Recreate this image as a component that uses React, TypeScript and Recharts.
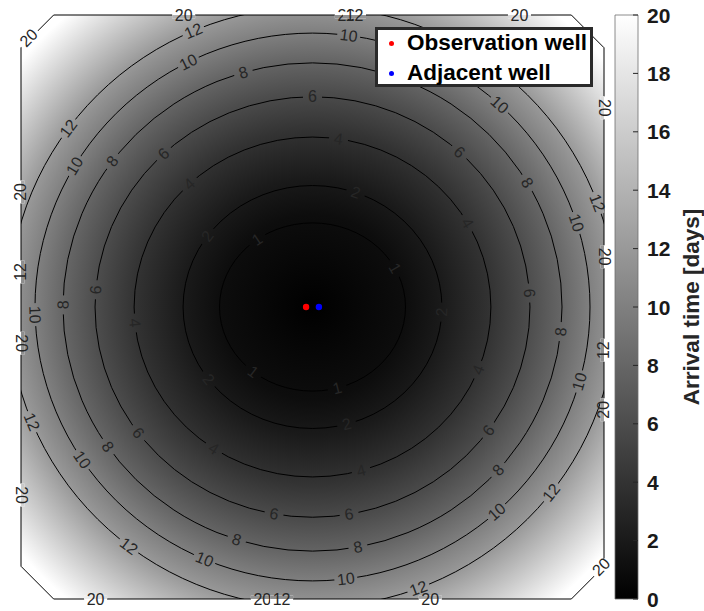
import React from 'react';
import {
  ComposedChart,
  BarChart,
  Bar,
  XAxis,
  YAxis,
  Scatter,
  ReferenceArea,
  ReferenceDot,
  Legend,
} from 'recharts';

// contour levels [days] and the half-axes of each contour ring (plot units)
const LEVELS = [1, 2, 4, 6, 8, 10, 12];
const RADIUS_X = [15.95, 22.2, 30.6, 37.3, 42.8, 47.6, 52.1];
const RADIUS_Y = [14.4, 20.8, 29.1, 36.0, 41.8, 46.9, 51.4];
const MAX_LEVEL = 20;
const MAX_RADIUS_X = 65.7;
const MAX_RADIUS_Y = 65.1;

// where the inline labels sit on each ring (degrees, counter-clockwise from +x)
const LABEL_ANGLES = [
  [126.6, 27.5, -129.7, -74.6],
  [70.5, 144.3, -2.4, -143.5, -74.7],
  [81.6, 133.6, -174.6, -123.6, -74.2, -21.7, 29.6],
  [90, 133.2, 175.3, -143.2, -100.2, -80.3, -35.9, 3.8, 47.5],
  [106.1, 143.3, 179.5, -145.1, -107.7, -79.5, -41.9, -5.8, 30.6],
  [116.6, 149, 82.5, -178.4, -146.1, -112.9, -83.1, -48.4, -15.8, 17.9, 47.6],
  [113.1, 143.5, -157.5, -127.2, -69.6, -38.2, 20.3],
];

// outer edge of the computed field (the 20-day contour)
const BOUNDARY_X = [-50, -44.4, 44.4, 50, 50, 44.4, -44.4, -50, -50];
const BOUNDARY_Y = [44.4, 50, 50, 44.4, -44.4, -50, -50, -44.4, 44.4];

// labels that sit on the outer edge
const EDGE_LABEL_TEXT = ['20', '20', '12', '20', '20', '20', '12', '20', '20', '20', '12', '20', '20', '20', '20', '12', '20', '20'];
const EDGE_LABEL_X = [-22.1, 5.8, 7.2, 35.5, -37.2, -8.6, -5.3, 20.2, -50, -50, -50, -50, 50, 50, 50, 50, -48.7, 49.5];
const EDGE_LABEL_Y = [50, 50, 50, 50, -50, -50, -50, -50, 19.7, -6.2, 6.0, -32.2, 34.1, 8.6, -17.6, -7.4, 46.1, -44.5];
const EDGE_LABEL_ROT = [0, 0, 0, 0, 0, 0, 0, 0, -90, 90, -90, 90, 90, 90, -90, -90, -45, -45];

const OBSERVATION_WELL = [{ x: -1.1, y: 0 }];
const ADJACENT_WELL = [{ x: 1.1, y: 0 }];
const WELL_NAMES = ['Observation well', 'Adjacent well'];

const COLORBAR_TICKS = [0, 2, 4, 6, 8, 10, 12, 14, 16, 18, 20];
const COLORBAR_DATA = [{ name: 'Arrival time', value: MAX_LEVEL }];

const FONT = '"Liberation Sans", Arial, Helvetica, sans-serif';

const gray = (level: number) => {
  const v = Math.round((255 * level) / MAX_LEVEL);
  return `rgb(${v},${v},${v})`;
};

const readable = (deg: number) => {
  let a = deg;
  while (a > 90) a -= 180;
  while (a <= -90) a += 180;
  return a;
};

const boundaryData = BOUNDARY_X.map((x, i) => ({ x, y: BOUNDARY_Y[i] }));

const ringLabels = LEVELS.flatMap((level, i) =>
  LABEL_ANGLES[i].map((phi) => {
    const t = (phi * Math.PI) / 180;
    const rx = RADIUS_X[i];
    const ry = RADIUS_Y[i];
    const rot = readable((Math.atan2(-ry * Math.cos(t), -rx * Math.sin(t)) * 180) / Math.PI);
    return { text: String(level), x: rx * Math.cos(t), y: ry * Math.sin(t), rot, edge: false };
  })
);

const edgeLabels = EDGE_LABEL_TEXT.map((text, i) => ({
  text,
  x: EDGE_LABEL_X[i],
  y: EDGE_LABEL_Y[i],
  rot: EDGE_LABEL_ROT[i],
  edge: true,
}));

// radial gray field, sized from the 20-day ellipse box
const FieldBackground = (p: any) => {
  const cx = p.x + p.width / 2;
  const cy = p.y + p.height / 2;
  const sy = p.height / p.width;
  return (
    <g>
      <defs>
        <radialGradient
          id="field"
          gradientUnits="userSpaceOnUse"
          cx={cx}
          cy={cy}
          r={p.width / 2}
          gradientTransform={`translate(0 ${cy}) scale(1 ${sy}) translate(0 ${-cy})`}
        >
          <stop offset={0} stopColor={gray(0)} />
          {LEVELS.map((lv, i) => (
            <stop key={lv} offset={RADIUS_X[i] / MAX_RADIUS_X} stopColor={gray(lv)} />
          ))}
          <stop offset={1} stopColor={gray(MAX_LEVEL)} />
        </radialGradient>
      </defs>
      <rect x={p.x} y={p.y} width={p.width} height={p.height} fill="url(#field)" clipPath="url(#domain)" />
    </g>
  );
};

const ContourRing = (p: any) => (
  <ellipse
    cx={p.x + p.width / 2}
    cy={p.y + p.height / 2}
    rx={p.width / 2}
    ry={p.height / 2}
    fill="none"
    stroke="#000"
    strokeWidth={1}
    clipPath="url(#domain)"
  />
);

const BoundaryLine = (lp: any) => {
  const pts = (lp.points || []).map((q: any) => `${q.x},${q.y}`).join(' ');
  return (
    <g>
      <defs>
        <clipPath id="domain">
          <polygon points={pts} />
        </clipPath>
      </defs>
      <polygon points={pts} fill="none" stroke="#000" strokeWidth={1} />
    </g>
  );
};

type LabelProps = { cx: number; cy: number; text: string; angle: number; edge: boolean };

// inline contour label: a patch of the field hides the line under the digits
const InlineLabel = ({ cx, cy, text, angle, edge }: LabelProps) => {
  const w = 15 + 4 * text.length;
  const h = 7;
  const a = (angle * Math.PI) / 180;
  const ux = Math.cos(a);
  const uy = Math.sin(a);
  const pts = [
    [-w / 2, -h / 2],
    [w / 2, -h / 2],
    [w / 2, h / 2],
    [-w / 2, h / 2],
  ]
    .map(([s, t]) => `${cx + s * ux - t * uy},${cy + s * uy + t * ux}`)
    .join(' ');
  return (
    <g>
      {edge && <polygon points={pts} fill="#fff" />}
      <polygon points={pts} fill="url(#field)" clipPath={edge ? 'url(#domain)' : undefined} />
      <text
        x={cx}
        y={cy}
        transform={`rotate(${angle} ${cx} ${cy})`}
        textAnchor="middle"
        dominantBaseline="central"
        fontSize={16}
        fontFamily={FONT}
        fill="#262626"
      >
        {text}
      </text>
    </g>
  );
};

const WellDot = (color: string) => (p: any) => <circle cx={p.cx} cy={p.cy} r={3.2} fill={color} />;

const WellLegend = (p: any) => {
  const entries = WELL_NAMES.map((n) => (p.payload || []).find((e: any) => e.value === n)).filter(Boolean);
  return (
    <div
      style={{
        position: 'relative',
        boxSizing: 'border-box',
        width: 218,
        height: 60,
        border: '3px solid #2a2a2a',
        background: '#fff',
        fontFamily: FONT,
        fontWeight: 'bold',
        fontSize: 22.5,
        color: '#000',
      }}
    >
      {entries.map((e: any, i: number) => (
        <div key={e.value} style={{ position: 'absolute', left: 0, top: -2 + i * 30, height: 30, whiteSpace: 'nowrap' }}>
          <span
            style={{ position: 'absolute', left: 10.5, top: 12.5, width: 5, height: 5, borderRadius: '50%', background: e.color }}
          />
          <span style={{ position: 'absolute', left: 29, top: 0, lineHeight: '30px' }}>{e.value}</span>
        </div>
      ))}
    </div>
  );
};

const ColorbarTick = (p: any) => (
  <g>
    <line x1={p.x - 14} x2={p.x - 9} y1={p.y} y2={p.y} stroke="#262626" strokeWidth={1} />
    <text
      x={p.x}
      y={p.y}
      dominantBaseline="central"
      fontSize={21}
      fontWeight="bold"
      fontFamily={FONT}
      fill="#1a1a1a"
    >
      {p.payload.value}
    </text>
  </g>
);

const ColorbarTitle = (p: any) => {
  const vb = p.viewBox || { x: 38, y: 15, width: 66, height: 584 };
  const x = vb.x + 53;
  const y = vb.y + vb.height / 2;
  return (
    <text
      x={x}
      y={y}
      transform={`rotate(-90 ${x} ${y})`}
      textAnchor="middle"
      dominantBaseline="central"
      fontSize={22.5}
      fontWeight="bold"
      fontFamily={FONT}
      fill="#262626"
    >
      Arrival time [days]
    </text>
  );
};

export default function App() {
  return (
    <div style={{ position: 'absolute', left: 0, top: 0, width: 704, height: 611, background: '#fff' }}>
      <div style={{ position: 'absolute', left: 0, top: 0 }}>
        <ComposedChart width={704} height={611} margin={{ top: 15, right: 100, bottom: 12, left: 21 }}>
          <XAxis type="number" dataKey="x" domain={[-50, 50]} hide />
          <YAxis type="number" dataKey="y" domain={[-50, 50]} hide />
          <ReferenceArea
            x1={-MAX_RADIUS_X}
            x2={MAX_RADIUS_X}
            y1={-MAX_RADIUS_Y}
            y2={MAX_RADIUS_Y}
            ifOverflow="visible"
            shape={FieldBackground}
            zIndex={1}
          />
          {LEVELS.map((lv, i) => (
            <ReferenceArea
              key={`ring-${lv}`}
              x1={-RADIUS_X[i]}
              x2={RADIUS_X[i]}
              y1={-RADIUS_Y[i]}
              y2={RADIUS_Y[i]}
              ifOverflow="visible"
              shape={ContourRing}
              zIndex={2}
            />
          ))}
          <Scatter
            name="boundary"
            data={boundaryData}
            legendType="none"
            fill="#000"
            line={BoundaryLine}
            shape={() => <g />}
            isAnimationActive={false}
            zIndex={3}
          />
          <Scatter
            name="Observation well"
            data={OBSERVATION_WELL}
            fill="#ff0000"
            shape={WellDot('#ff0000')}
            isAnimationActive={false}
            zIndex={4}
          />
          <Scatter
            name="Adjacent well"
            data={ADJACENT_WELL}
            fill="#0000ff"
            shape={WellDot('#0000ff')}
            isAnimationActive={false}
            zIndex={4}
          />
          {[...ringLabels, ...edgeLabels].map((lb, i) => (
            <ReferenceDot
              key={`lbl-${i}`}
              x={lb.x}
              y={lb.y}
              ifOverflow="visible"
              zIndex={5}
              shape={(p: any) => <InlineLabel cx={p.cx} cy={p.cy} text={lb.text} angle={lb.rot} edge={lb.edge} />}
            />
          ))}
          <Legend
            layout="vertical"
            align="center"
            verticalAlign="middle"
            content={WellLegend}
            wrapperStyle={{ left: 375, top: 27, width: 218, height: 60 }}
          />
        </ComposedChart>
      </div>
      <div style={{ position: 'absolute', left: 600, top: 0 }}>
        <BarChart
          width={104}
          height={611}
          data={COLORBAR_DATA}
          margin={{ top: 15, right: 0, bottom: 12, left: 15 }}
          barCategoryGap={0}
        >
          <defs>
            <linearGradient id="cbar" x1="0" y1="1" x2="0" y2="0">
              <stop offset="0" stopColor="#000" />
              <stop offset="1" stopColor="#fff" />
            </linearGradient>
          </defs>
          <XAxis dataKey="name" hide />
          <YAxis
            orientation="right"
            type="number"
            domain={[0, MAX_LEVEL]}
            ticks={COLORBAR_TICKS}
            interval={0}
            width={66}
            axisLine={false}
            tickLine={false}
            tickSize={0}
            tickMargin={9}
            tick={ColorbarTick}
            label={<ColorbarTitle />}
          />
          <Bar dataKey="value" fill="url(#cbar)" stroke="#6e6e6e" strokeWidth={0.8} isAnimationActive={false} />
        </BarChart>
      </div>
    </div>
  );
}
